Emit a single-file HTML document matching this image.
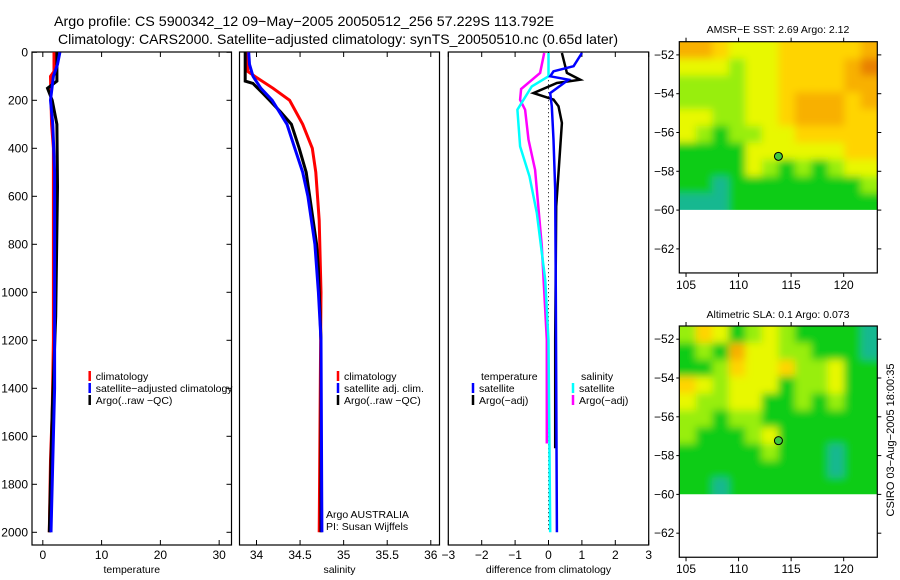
<!DOCTYPE html>
<html><head><meta charset="utf-8"><style>
body{margin:0;background:#fff;}
svg{display:block;font-family:"Liberation Sans",sans-serif;}
</style></head><body>
<svg id="c" width="900" height="580" xmlns="http://www.w3.org/2000/svg">
<defs>
<filter id="blur" x="-5%" y="-5%" width="110%" height="110%"><feGaussianBlur stdDeviation="4"/></filter>
<clipPath id="clip-sst"><rect x="679.3" y="41.7" width="198" height="168.2"/></clipPath>
<clipPath id="clip-sla"><rect x="679.3" y="326" width="198" height="168.2"/></clipPath>
</defs>
<text x="54" y="26" font-size="14" textLength="500" lengthAdjust="spacingAndGlyphs">Argo profile: CS 5900342_12 09−May−2005 20050512_256 57.229S 113.792E</text>
<text x="58" y="44" font-size="14" textLength="560" lengthAdjust="spacingAndGlyphs">Climatology: CARS2000. Satellite−adjusted climatology: synTS_20050510.nc (0.65d later)</text>
<text x="778" y="33" font-size="10.5" text-anchor="middle">AMSR−E SST: 2.69 Argo: 2.12</text>
<text x="778" y="318" font-size="10.5" text-anchor="middle">Altimetric SLA: 0.1 Argo: 0.073</text>
<text transform="translate(894,440) rotate(-90)" font-size="11" text-anchor="middle">CSIRO 03−Aug−2005 18:00:35</text>
</svg>
<script>
// ---- data ----
const depthTicks=[0,200,400,600,800,1000,1200,1400,1600,1800,2000];
const tempTicks=[0,10,20,30];
const salTicks=[34,34.5,35,35.5,36];
const salTickLabels=["34","34.5","35","35.5","36"];
const diffTicks=[-3,-2,-1,0,1,2,3];
const tClimDepth=[0,80,100,200,300,400,1000,1200,1500,1700,2000];
const tClim=[1.9,1.9,1.3,1.4,1.5,1.8,1.8,1.8,1.6,1.3,1.1];
const tSatDepth=[0,50,100,200,300,500,1000,1400,1700,2000];
const tSat=[2.9,2.5,1.8,1.3,1.7,2.0,2.0,2.0,1.7,1.4];
const tArgoDepth=[0,120,150,200,300,560,1100,1500,2000];
const tArgo=[2.4,2.4,0.8,1.6,2.4,2.5,2.2,1.6,1.1];
const sArgoDepth=[0,120,130,170,200,250,300,400,500,600,800,900,1000,1200,2000];
const sArgo=[33.87,33.87,33.96,34.07,34.15,34.28,34.40,34.49,34.57,34.61,34.69,34.71,34.72,34.74,34.74];
const sClimDepth=[0,80,100,150,200,300,400,500,600,700,1000,2000];
const sClim=[33.9,33.9,33.98,34.19,34.38,34.53,34.64,34.68,34.70,34.72,34.74,34.72];
const sSatDepth=[0,50,100,150,200,300,400,500,600,800,1000,1200,2000];
const sSat=[33.91,33.92,33.96,34.05,34.18,34.35,34.44,34.53,34.59,34.67,34.71,34.74,34.75];
const dTArgoDepth=[3,86,114,128,170,197,225,294,503,642,1197,1650];
const dTArgo=[0.4,0.55,0.95,0.25,-0.45,0.15,0.3,0.4,0.3,0.23,0.2,0.2];
const dTSatDepth=[3,58,79,100,114,170,225,364,572,1000,2000];
const dTSat=[1.0,0.75,0.15,0.05,0.6,0.05,0.1,0.15,0.2,0.22,0.25];
const dSSatDepth=[3,100,142,239,392,517,669,947,1200,2000];
const dSSat=[0,0,-0.5,-0.93,-0.85,-0.57,-0.35,-0.1,0,0.05];
const dSArgoDepth=[3,86,153,198,239,364,490,808,1197,1630];
const dSArgo=[-0.13,-0.25,-0.82,-0.85,-0.7,-0.6,-0.4,-0.2,-0.05,-0.05];
const lonTicks=[105,110,115,120];
const latTicks=[-52,-54,-56,-58,-60,-62];
const sstGrid=[
[5,5,4,3,3,3,4,4,4,4,4,5],
[3,3,3,2,3,3,4,4,4,4,5,6],
[2,2,2,2,3,3,4,4,4,4,5,5],
[2,2,2,2,3,3,4,5,5,5,4,5],
[3,3,2,2,3,3,4,5,5,5,4,4],
[3,2,1,2,2,3,3,4,4,4,4,4],
[1,1,1,1,3,3,3,3,3,3,4,4],
[1,1,1,1,3,2,1,2,1,2,3,3],
[1,1,0,1,1,1,1,1,1,1,1,2],
[0,0,0,1,1,1,1,1,1,1,1,1]];
const slaGrid=[
[2,4,3,1,2,3,2,1,1,1,1,0],
[1,2,1,5,3,3,2,2,1,1,1,0],
[1,1,2,4,3,3,4,2,2,3,1,1],
[4,3,2,3,3,3,1,2,2,3,1,1],
[3,2,2,3,3,1,1,2,1,2,1,1],
[2,2,1,2,2,1,1,1,1,1,1,1],
[2,1,1,1,2,3,1,1,1,1,1,1],
[1,1,1,1,1,2,1,1,1,0,1,1],
[1,1,1,1,1,1,1,1,1,0,1,1],
[1,1,0,1,1,1,1,1,1,1,1,1]];
const argoLon=113.792, argoLat=-57.229;
const palette=["#18b890","#10cc18","#98ee10","#e8f800","#ffd400","#f8b000","#e88000"];

const NS="http://www.w3.org/2000/svg";
const svg=document.getElementById('c');
function mk(tag,attrs,parent){const e=document.createElementNS(NS,tag);for(const k in attrs)e.setAttribute(k,attrs[k]);(parent||svg).appendChild(e);return e;}
function txt(x,y,s,size,anchor,parent){const t=mk('text',{x:x,y:y,'font-size':size,'text-anchor':anchor||'start'},parent);t.textContent=s;return t;}

const yTop=52.3, yPx=0.24;
const yD=d=>yTop+d*yPx;

function panel(name,x0,x1,xmin,xmax,ticks,labels,xlabel,tickY){
  const g=mk('g',{});
  
  
  const xs=v=>x0+(v-xmin)/(xmax-xmin)*(x1-x0);
  const r=mk('rect',{x:x0,y:52,width:x1-x0,height:493,fill:'none',stroke:'#000','stroke-width':1.2},g);
  
  
  ticks.forEach((t,i)=>{
    const x=xs(t);
    mk('line',{x1:x,y1:545,x2:x,y2:540,stroke:'#000'},g);
    mk('line',{x1:x,y1:52,x2:x,y2:57,stroke:'#000'},g);
    const l=txt(x,559,labels[i],12,'middle',g);
    
    
  });
  const xl=txt((x0+x1)/2,573,xlabel,10.5,'middle',g);
  
  
  if(tickY){
    depthTicks.forEach(d=>{
      const y=yD(d);
      mk('line',{x1:x0,y1:y,x2:x0+5,y2:y,stroke:'#000'},g);
      mk('line',{x1:x1,y1:y,x2:x1-5,y2:y,stroke:'#000'},g);
      const l=txt(x0-4,y+4,String(d),12,'end',g);
      
      
    });
  }
  return {g,xs};
}
function series(p,depths,vals,color,name,w){
  const pts=depths.map((d,i)=>p.xs(vals[i]).toFixed(1)+','+yD(d).toFixed(1)).join(' ');
  const pl=mk('polyline',{points:pts,fill:'none',stroke:color,'stroke-width':w||3,'stroke-linejoin':'miter'},p.g);
  
  
}
function legend(p,x,y,color,label,name){
  if(color){mk('line',{x1:x,y1:y-9,x2:x,y2:y+1,stroke:color,'stroke-width':2.5},p.g);}
  const t=txt(x+6,y,label,10.5,'start',p.g);
  
  
}

// Temperature panel
const p1=panel('temperature',32,231.5,-1.84,32.1,tempTicks,tempTicks.map(String),'temperature',true);
series(p1,tClimDepth,tClim,'#ff0000','temp-climatology-line');
series(p1,tArgoDepth,tArgo,'#000000','temp-argo-line');
series(p1,tSatDepth,tSat,'#0000ff','temp-satellite-line');
legend(p1,89.7,380,'#ff0000','climatology','legend-climatology');
legend(p1,89.7,392,'#0000ff','satellite−adjusted climatology','legend-satellite-adjusted');
legend(p1,89.7,404,'#000000','Argo(..raw −QC)','legend-argo-raw');

// Salinity panel
const p2=panel('salinity',239.5,439.5,33.805,36.1,salTicks,salTickLabels,'salinity',false);
series(p2,sClimDepth,sClim,'#ff0000','sal-climatology-line');
series(p2,sArgoDepth,sArgo,'#000000','sal-argo-line');
series(p2,sSatDepth,sSat,'#0000ff','sal-satellite-line');
legend(p2,338,380,'#ff0000','climatology','legend-sal-climatology');
legend(p2,338,392,'#0000ff','satellite adj. clim.','legend-sal-satellite');
legend(p2,338,404,'#000000','Argo(..raw −QC)','legend-sal-argo');
legend(p2,320,518,null,'Argo AUSTRALIA','argo-australia-label');
legend(p2,320,530,null,'PI: Susan Wijffels','pi-label');

// Difference panel
const p3=panel('difference',448.3,648.7,-3,3,diffTicks,diffTicks.map(v=>v<0?'−'+(-v):String(v)),'difference from climatology',false);
const zl=mk('line',{x1:p3.xs(0),y1:yD(0),x2:p3.xs(0),y2:yD(2000),stroke:'#000','stroke-width':1,'stroke-dasharray':'1,3'},p3.g);


series(p3,dSArgoDepth,dSArgo,'#ff00ff','diff-sal-argo-line',2.5);
series(p3,dSSatDepth,dSSat,'#00ffff','diff-sal-satellite-line',2.5);
series(p3,dTArgoDepth,dTArgo,'#000000','diff-temp-argo-line',2.5);
series(p3,dTSatDepth,dTSat,'#0000ff','diff-temp-satellite-line',2.5);
legend(p3,475,380,null,'temperature','legend-temperature-header');
legend(p3,473,392,'#0000ff','satellite','legend-temp-satellite');
legend(p3,473,404,'#000000','Argo(−adj)','legend-temp-argo');
legend(p3,575,380,null,'salinity','legend-salinity-header');
legend(p3,573,392,'#00ffff','satellite','legend-sal-satellite-diff');
legend(p3,573,404,'#ff00ff','Argo(−adj)','legend-sal-argo-diff');

// Maps
function map(name,top,grid){
  const g=mk('g',{});
  
  
  const L=679.3,R=877.3,lonMin=104.36,lonMax=123.2,latMax=-51.32,latMin=-63.24;
  const bottom=top+(latMax-latMin)*19.4;
  const xs=lon=>L+(lon-lonMin)/(lonMax-lonMin)*(R-L);
  const ys=lat=>top+(latMax-lat)*19.4;
  const rows=grid.length, cols=grid[0].length;
  const cw=(lonMax-lonMin)/cols, ch=(latMax+60)/rows;
  const clipG=mk('g',{'clip-path':'url(#clip-'+name+')'},g);
  const hm=mk('g',{filter:'url(#blur)'},clipG);
  
  
  grid.forEach((row,i)=>row.forEach((v,j)=>{
    let x=xs(lonMin+j*cw), y=ys(latMax-i*ch);
    let w=xs(lonMin+(j+1)*cw)-x+0.5, h=ys(latMax-(i+1)*ch)-y+0.5;
    if(j===0){x-=10;w+=10;} if(j===cols-1){w+=10;}
    if(i===0){y-=10;h+=10;} if(i===rows-1){h+=10;}
    const c=mk('rect',{x:x,y:y,width:w,height:h,fill:palette[v]},hm);
    
    
  }));
  const fr=mk('rect',{x:L,y:top,width:R-L,height:bottom-top,fill:'none',stroke:'#000','stroke-width':1.2},g);
  
  
  lonTicks.forEach(l=>{
    const x=xs(l);
    mk('line',{x1:x,y1:top,x2:x,y2:top-4,stroke:'#000'},g);
    mk('line',{x1:x,y1:bottom,x2:x,y2:bottom+4,stroke:'#000'},g);
    const t=txt(x,bottom+16,String(l),12,'middle',g);
    
    
  });
  latTicks.forEach(l=>{
    const y=ys(l);
    mk('line',{x1:R,y1:y,x2:R+4,y2:y,stroke:'#000'},g);
    mk('line',{x1:L,y1:y,x2:L-3,y2:y,stroke:'#000'},g);
    const t=txt(L-5,y+4,'−'+(-l),12,'end',g);
    
    
  });
  const m=mk('circle',{cx:xs(argoLon),cy:ys(argoLat),r:4,fill:'#40c840',stroke:'#000','stroke-width':1},g);
  
  
}
map('sst',41.7,sstGrid);
map('sla',326,slaGrid);
</script>
</body></html>
